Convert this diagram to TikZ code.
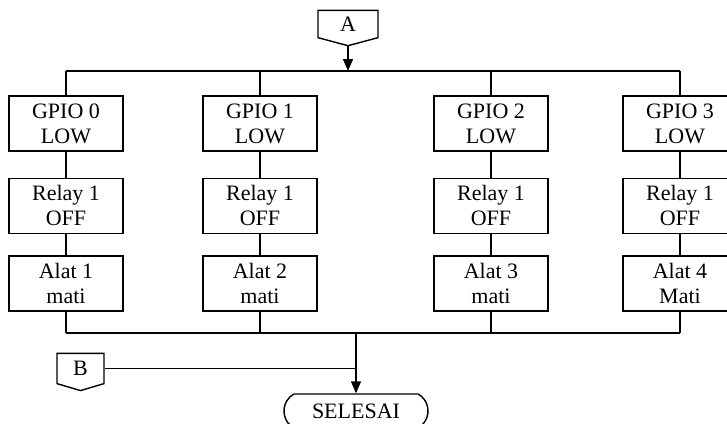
\documentclass[tikz,border=0pt]{standalone}
\usepackage{fontspec}
\setmainfont{Liberation Serif}
\usetikzlibrary{positioning,arrows.meta,shapes.misc,shapes.symbols}

\begin{document}
\begin{tikzpicture}[x=0.5pt,y=-0.5pt,line width=0.7pt,
  font=\fontsize{11}{12.5}\selectfont,
  >={Triangle[length=6pt,width=5pt]}]
\tikzstyle{every node}=[align=center,inner sep=1pt]
\tikzstyle{proc}=[draw,rectangle,minimum width=57pt,minimum height=27.5pt]
\tikzstyle{offpage}=[draw,signal,signal to=south,signal pointer angle=150,
  minimum width=30pt,minimum height=15pt]
\tikzstyle{term}=[draw,rounded rectangle,rounded rectangle arc length=120,
  minimum width=74pt,minimum height=17pt]
\useasboundingbox (0,0) rectangle (727,423);
\clip (0,0) rectangle (727,423);

% connector masuk
\node[offpage] (A) at (348,24) {A};
\coordinate (topL) at (66,71);
\coordinate (topR) at (680,71);
\draw (topL) -- (topR);
\draw[->] (A.south) -- (A.south |- topL);

% empat cabang GPIO
\foreach \x/\i/\alat in {66/0/{Alat 1\\mati},260/1/{Alat 2\\mati},
                          491/2/{Alat 3\\mati},680/3/{Alat 4\\Mati}}{
  \node[proc] (g\i) at (\x,123.5) {GPIO \i\\LOW};
  \node[proc,below=13pt of g\i] (r\i) {Relay 1\\OFF};
  \node[proc,below=10.5pt of r\i] (a\i) {\alat};
  \draw (g\i.north) -- (g\i.north |- topL);
  \draw (g\i) -- (r\i);
  \draw (r\i) -- (a\i);
  \coordinate (bot\i) at (\x,333);
  \draw (a\i) -- (bot\i);
}
\draw (bot0) -- (bot3);

% selesai
\node[term] (selesai) at (356,411) {SELESAI};
\draw[->] (selesai.north |- bot0) -- (selesai.north);

% connector B
\node[offpage,signal pointer angle=147,minimum width=23.5pt,minimum height=16.5pt]
  (B) at (80.5,368.5) {B};
\coordinate (jB) at (selesai.north |- B.east);
\draw (B.east) -- (jB);
\end{tikzpicture}
\end{document}
